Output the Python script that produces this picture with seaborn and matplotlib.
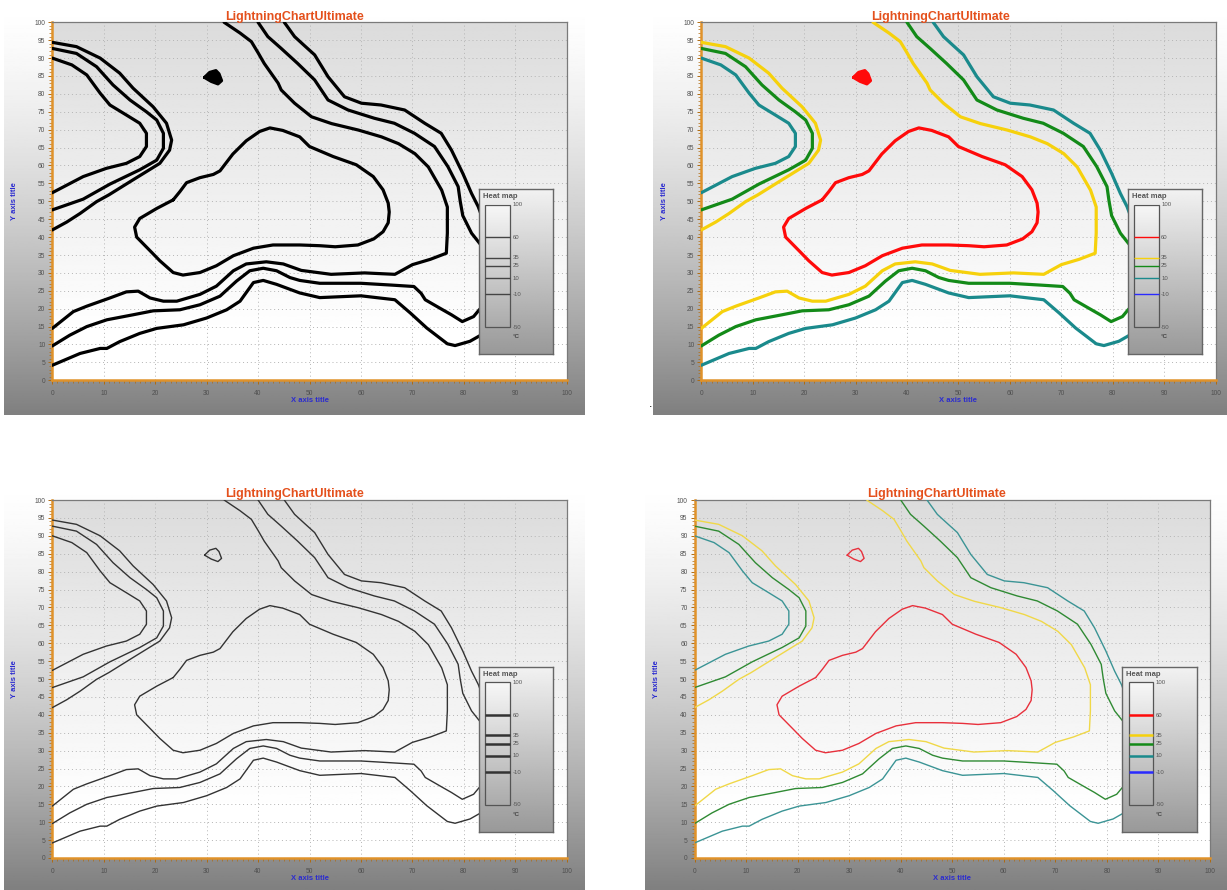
"""
Four LightningChart-style contour panels (thick/thin, mono/coloured) with a heat map legend.
"""

import numpy as np
import matplotlib
matplotlib.use('Agg')
import matplotlib.pyplot as plt
from matplotlib.ticker import MultipleLocator
from matplotlib.patches import Rectangle
import seaborn as sns

W, H = 1227, 890

# ---- contour paths (axis units) ----
red_loop_x = [23.5, 20.3, 17.0, 16.0, 16.4, 19.0, 20.9, 23.5, 25.4, 28.7, 31.9, 35.2, 39.1, 42.9,
              48.1, 52.0, 55.0, 59.4, 62.5, 64.3, 65.3, 65.5, 65.3, 64.3, 62.4, 59.1, 54.6, 50.0,
              48.1, 44.8, 42.3, 40.3, 37.7, 35.1, 32.6, 31.3, 28.7, 26.1, 24.8, 23.5]
red_loop_y = [50.4, 48.0, 45.2, 42.8, 40.0, 36.2, 33.4, 30.1, 29.4, 30.1, 32.0, 34.8, 36.9, 37.8,
              37.8, 37.6, 37.3, 37.8, 39.5, 41.5, 44.0, 47.0, 49.5, 53.2, 56.9, 60.2, 62.5, 65.3,
              68.0, 69.8, 70.5, 69.5, 66.9, 63.2, 58.5, 57.5, 56.6, 55.2, 52.7, 50.4]

red_island_x = [29.6, 30.6, 31.8, 32.4, 32.9, 32.2, 30.9, 29.6]
red_island_y = [84.6, 86.0, 86.5, 85.6, 83.7, 82.8, 83.5, 84.6]

yellow_left_x = [0, 4.7, 9.3, 13.1, 15.7, 19.6, 22.2, 23.2, 22.8, 20.9, 15.7, 11.0, 8.6, 5.4, 2.8, 0]
yellow_left_y = [94.4, 93.2, 90.0, 85.8, 81.6, 76.4, 71.8, 67.1, 64.3, 60.6, 56.0, 51.8, 49.9, 46.6, 44.2, 42.0]

yellow_main_x = [33.4, 36.5, 38.7, 40.0, 41.2, 43.9, 44.5, 47.1, 50.4, 54.3, 59.5, 64.0, 67.3, 70.5,
                 73.1, 75.7, 76.8, 76.8, 76.6, 73.5, 70.0, 66.6, 60.7, 54.2, 48.4, 44.9, 41.6, 37.7,
                 35.2, 31.9, 28.7, 24.2, 21.6, 19.0, 16.7, 14.4, 11.2, 6.7, 4.1, 0]
yellow_main_y = [100, 97.0, 94.6, 91.5, 88.5, 83.0, 81.1, 77.4, 73.6, 71.7, 69.9, 68.0, 66.1, 63.3,
                 59.6, 53.1, 48.4, 41.1, 35.5, 33.8, 32.3, 29.6, 30.0, 29.6, 30.7, 32.5, 33.1, 32.5,
                 30.6, 26.3, 24.0, 22.1, 22.1, 23.0, 24.9, 24.7, 23.0, 20.7, 19.2, 14.5]

green_left_x = [0, 4.7, 8.6, 11.8, 15.1, 18.3, 20.3, 21.6, 21.6, 20.3, 17.0, 11.2, 6.0, 0]
green_left_y = [92.7, 91.3, 87.6, 82.5, 78.3, 75.0, 72.7, 69.0, 64.8, 61.5, 58.8, 54.8, 50.6, 47.6]

green_main_x = [40.0, 41.9, 44.5, 47.7, 51.0, 53.6, 57.5, 62.6, 66.5, 70.4, 74.3, 76.9, 78.9, 79.3,
                79.8, 81.5, 83.1, 86.0, 86.0, 83.0, 81.9, 79.7, 77.6, 75.4, 72.5, 71.7, 70.3, 65.9,
                60.0, 52.0, 48.1, 46.2, 43.6, 41.0, 38.4, 35.8, 32.6, 28.7, 24.8, 19.6, 15.7, 10.6,
                6.7, 3.4, 0]
green_main_y = [100, 96.0, 92.7, 88.5, 83.9, 78.3, 75.5, 73.2, 71.8, 69.0, 65.3, 59.7, 54.1, 50.0,
                46.0, 41.1, 38.2, 33.0, 24.0, 19.7, 17.8, 16.4, 18.3, 20.1, 22.5, 24.3, 26.2, 26.6,
                27.1, 27.1, 27.9, 28.7, 30.6, 31.3, 30.6, 27.7, 23.5, 21.1, 19.7, 19.4, 18.3, 16.9,
                15.0, 12.6, 9.6]

teal_left_x = [0, 3.8, 6.7, 9.3, 11.2, 14.4, 17.0, 18.3, 18.3, 17.0, 14.4, 10.5, 6.0, 0]
teal_left_y = [90.0, 88.1, 85.3, 80.2, 76.9, 74.1, 71.8, 69.0, 65.3, 62.5, 60.6, 59.2, 56.9, 52.4]

teal_main_x = [45.1, 47.1, 49.0, 51.0, 53.6, 56.8, 60.1, 63.9, 68.5, 72.4, 75.6, 77.6, 79.8, 81.5,
               82.8, 85.0, 86.0, 85.0, 83.4, 81.2, 78.3, 76.8, 72.8, 69.6, 66.6, 60.0, 52.0, 48.1,
               43.6, 41.0, 39.1, 36.5, 33.9, 30.0, 25.5, 20.3, 17.0, 13.1, 10.6, 9.3, 5.4, 0]
teal_main_y = [100, 96.0, 93.5, 90.9, 84.8, 79.2, 77.4, 76.9, 75.5, 71.8, 69.0, 64.3, 57.8, 52.2,
               48.5, 40.0, 25.0, 15.0, 12.7, 10.9, 9.7, 10.2, 14.6, 18.8, 22.5, 23.6, 23.1, 24.4,
               26.8, 27.9, 27.3, 22.1, 19.7, 17.4, 15.5, 14.5, 13.1, 10.8, 8.9, 8.9, 7.5, 4.2]

# heat map legend
legend_ticks = [100, 60, 35, 25, 10, -10, -50]
legend_levels = [60, 35, 25, 10, -10]

level_colors = {60: '#ff0a0a', 35: '#f6d10c', 25: '#138a18', 10: '#1a8a8c', -10: '#2a2aff'}
thin_colors = {60: '#e8303c', 35: '#f0d848', 25: '#2f8a33', 10: '#3b9495', -10: '#2a2aff'}

contours = [
    (60, red_loop_x, red_loop_y),
    (60, red_island_x, red_island_y),
    (35, yellow_left_x, yellow_left_y),
    (35, yellow_main_x, yellow_main_y),
    (25, green_left_x, green_left_y),
    (25, green_main_x, green_main_y),
    (10, teal_left_x, teal_left_y),
    (10, teal_main_x, teal_main_y),
]

sns.set_style('white')
plt.rcParams['font.family'] = ['Liberation Sans', 'DejaVu Sans']


def rect(x0, y0, x1, y1):
    return [x0 / W, 1 - y1 / H, (x1 - x0) / W, (y1 - y0) / H]


def draw_panel(fig, bg_box, plot_box, colored, thick):
    # outer gradient background
    bg = fig.add_axes(rect(*bg_box), zorder=0)
    t = np.linspace(0, 1, 256)[:, None]
    bg.imshow(1 - 0.5 * t ** 1.5, cmap='gray', vmin=0, vmax=1, aspect='auto',
              extent=[0, 1, 0, 1])
    bg.axis('off')

    ax = fig.add_axes(rect(*plot_box), zorder=1)
    ax.set_facecolor('none')
    ax.imshow(0.86 + 0.14 * np.clip(t * 1.15, 0, 1), cmap='gray', vmin=0, vmax=1,
              aspect='auto', extent=[0, 100, 0, 100], zorder=0)

    lw = 2.3 if thick else 1.0
    for level, xs, ys in contours:
        if colored:
            c = level_colors[level] if thick else thin_colors[level]
        else:
            c = 'black' if thick else '#333333'
        sns.lineplot(x=xs, y=ys, sort=False, estimator=None, ax=ax, color=c,
                     linewidth=lw, solid_joinstyle='round', solid_capstyle='round', zorder=3)
    if thick:
        c = level_colors[60] if colored else 'black'
        ax.fill(red_island_x, red_island_y, color=c, zorder=3)

    ax.set_xlim(0, 100)
    ax.set_ylim(0, 100)
    ax.set_xlabel('')
    ax.set_ylabel('')
    ax.xaxis.set_major_locator(MultipleLocator(10))
    ax.yaxis.set_major_locator(MultipleLocator(5))
    ax.xaxis.set_minor_locator(MultipleLocator(1))
    ax.yaxis.set_minor_locator(MultipleLocator(1))
    ax.grid(True, which='major', linestyle=(0, (1, 3)), color='#b4b4b4', lw=0.7)
    ax.set_axisbelow(True)
    for s in ['left', 'bottom']:
        ax.spines[s].set_color('#e0922a')
        ax.spines[s].set_linewidth(1.8)
    for s in ['top', 'right']:
        ax.spines[s].set_color('#7a7a7a')
        ax.spines[s].set_linewidth(0.9)
    ax.tick_params(which='both', bottom=True, left=True, top=False, right=False,
                   direction='out', color='#b06a10')
    ax.tick_params(which='major', labelsize=4.8, labelcolor='#505050', length=3, width=0.7)
    ax.tick_params(which='minor', length=2, width=0.5)
    ax.tick_params(axis='x', pad=4)
    ax.tick_params(axis='y', pad=2)

    # heat map legend box
    lax = ax.inset_axes([82.9, 7.3, 14.5, 46.1], transform=ax.transData, zorder=5)
    lo, hi = -83.2, 119.2
    lax.imshow(0.95 - 0.35 * t, cmap='gray', vmin=0, vmax=1, aspect='auto',
               extent=[0, 1, lo, hi])
    lax.imshow(0.97 - 0.3 * t, cmap='gray', vmin=0, vmax=1, aspect='auto',
               extent=[0.09, 0.42, -50, 100])
    lax.add_patch(Rectangle((0.09, -50), 0.33, 150, fill=False, ec='#555555', lw=0.9))
    lax.set_xlim(0, 1)
    lax.set_ylim(lo, hi)
    llw = 1.8 if not thick else 1.0
    for lev in legend_levels:
        if colored:
            c = level_colors[lev]
        else:
            c = '#444444' if thick else '#333333'
        lax.hlines(lev, 0.09, 0.42, colors=c, lw=llw)
    for v in legend_ticks:
        lax.text(0.45, v, str(v), fontsize=4.3, color='#555555', va='center', ha='left')
    lax.text(0.45, -61.6, '°C', fontsize=4.5, color='#444444', fontweight='bold', va='center')
    lax.text(0.06, 0.955, 'Heat map', transform=lax.transAxes, fontsize=5.5,
             color='#555555', fontweight='bold', va='center')
    lax.set_xticks([])
    lax.set_yticks([])
    for s in lax.spines.values():
        s.set_color('#666666')
        s.set_linewidth(1)

    # texts
    cx = (bg_box[0] + bg_box[2]) / 2
    fig.text(cx / W, 1 - (plot_box[1] - 5.5) / H, 'LightningChartUltimate', color='#e4501c',
             fontsize=9, fontweight='bold', ha='center', va='center')
    px = (plot_box[0] + plot_box[2]) / 2
    fig.text(px / W, 1 - (plot_box[3] + 20) / H, 'X axis title', color='#2b2bd0',
             fontsize=5.5, fontweight='bold', ha='center', va='center')
    py = (plot_box[1] + plot_box[3]) / 2
    fig.text((bg_box[0] + 11) / W, 1 - py / H, 'Y axis title', color='#2b2bd0',
             fontsize=5.5, fontweight='bold', ha='center', va='center', rotation=90)
    return ax


fig = plt.figure(figsize=(W / 100, H / 100), dpi=100)
fig.patch.set_facecolor('white')

draw_panel(fig, (4, 0, 585, 415), (52.3, 22.3, 566.7, 380.3), colored=False, thick=True)
draw_panel(fig, (653, 0, 1227, 415), (701.3, 22.3, 1215.5, 380.3), colored=True, thick=True)
draw_panel(fig, (4, 478, 585, 890), (52.3, 500, 566.7, 858), colored=False, thick=False)
draw_panel(fig, (645, 478, 1227, 890), (694.5, 500, 1210, 858), colored=True, thick=False)

fig.text(651 / W, 1 - 404 / H, '.', fontsize=9, color='black', ha='center', va='center')

plt.savefig('out.png', dpi=100)
